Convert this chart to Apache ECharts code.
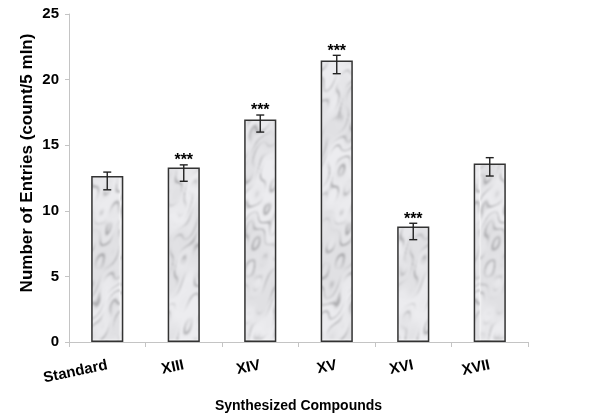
<!DOCTYPE html>
<html>
<head>
<meta charset="utf-8">
<script src="https://cdn.jsdelivr.net/npm/echarts@6/dist/echarts.min.js"></script>
<style>
  html, body { margin: 0; padding: 0; background: #fff; }
  #chart { width: 600px; height: 420px; }
</style>
</head>
<body>
<div id="chart"></div>
<script>
  // data
  var categories = ['Standard', 'XIII', 'XIV', 'XV', 'XVI', 'XVII'];
  var entries = [12.65, 13.3, 16.95, 21.45, 8.8, 13.6];
  var errLow = [11.6, 12.25, 16.0, 20.45, 7.8, 12.65];
  var errHigh = [12.95, 13.5, 17.3, 21.85, 9.05, 14.05];
  var marks = ['', '***', '***', '***', '***', ''];
  var yTicks = [0, 5, 10, 15, 20, 25];

  // marble texture for the bars (sine turbulence, no randomness)
  var tw = 120, th = 340;
  var raw = document.createElement('canvas');
  raw.width = tw; raw.height = th;
  var c = raw.getContext('2d');
  var img = c.createImageData(tw, th);
  for (var y = 0; y < th; y++) {
    for (var x = 0; x < tw; x++) {
      var turb = Math.sin(x * 0.09 + y * 0.031) + 0.7 * Math.sin(x * 0.17 - y * 0.063 + 1.3)
        + 0.4 * Math.sin(x * 0.33 + y * 0.21 + 2.1) + 0.5 * Math.sin(y * 0.083 + 0.4);
      var t = (x + y) * 0.045 + turb * 0.8;
      var vein = Math.pow(1 - Math.abs(Math.sin(t * Math.PI)), 3);
      var brk = 0.5 + 0.5 * Math.sin(x * 0.12 - y * 0.09 + turb * 1.7);
      var g = 236 - 75 * vein * brk - 12 * (0.5 + 0.5 * Math.sin(y * 0.05 + x * 0.02 + turb));
      var k = (y * tw + x) * 4;
      img.data[k] = g; img.data[k + 1] = g; img.data[k + 2] = g + 3; img.data[k + 3] = 255;
    }
  }
  c.putImageData(img, 0, 0);
  var tex = document.createElement('canvas');
  tex.width = tw; tex.height = th;
  var c2 = tex.getContext('2d');
  c2.filter = 'blur(0.8px)';
  c2.drawImage(raw, 0, 0);

  var myChart = echarts.init(document.getElementById('chart'));
  myChart.setOption({
    animation: false,
    textStyle: { fontFamily: 'Liberation Sans, Arial, sans-serif' },
    grid: { left: 69, right: 72, top: 14, bottom: 78 },
    xAxis: {
      type: 'category',
      data: categories,
      name: 'Synthesized Compounds',
      nameLocation: 'middle',
      nameGap: 57,
      nameTextStyle: { fontWeight: 'bold', fontSize: 14, color: '#000' },
      axisLine: { lineStyle: { color: '#c4c4c4' } },
      axisTick: { show: true, length: 5, lineStyle: { color: '#c4c4c4' } },
      axisLabel: {
        interval: 0, rotate: 12, margin: 23,
        fontWeight: 'bold', fontSize: 15, color: '#000'
      }
    },
    yAxis: {
      type: 'value',
      min: 0, max: 25, interval: 5,
      name: 'Number of Entries (count/5 mIn)',
      nameLocation: 'middle',
      nameGap: 33,
      nameMoveOverlap: false,
      nameTextStyle: { fontWeight: 'bold', fontSize: 17, color: '#000', padding: [0, 0, 0, 30] },
      axisLine: { show: true, lineStyle: { color: '#c4c4c4' } },
      axisTick: { show: true, length: 4, lineStyle: { color: '#c4c4c4' } },
      splitLine: { show: false },
      axisLabel: {
        fontWeight: 'bold', fontSize: 15, color: '#000', margin: 10,
        formatter: function (v) { return yTicks.indexOf(v) >= 0 ? String(v) : ''; }
      }
    },
    series: [
      {
        type: 'bar',
        data: entries,
        barWidth: '42%',
        itemStyle: {
          color: { image: tex, repeat: 'repeat' },
          borderColor: '#333',
          borderWidth: 1.5
        }
      },
      {
        type: 'custom',
        data: categories.map(function (name, i) { return [i, errLow[i], errHigh[i]]; }),
        renderItem: function (params, api) {
          var i = api.value(0);
          var lo = api.coord([i, api.value(1)]);
          var hi = api.coord([i, api.value(2)]);
          var w = 4;
          var st = { stroke: '#222', lineWidth: 1.4 };
          var kids = [
            { type: 'line', shape: { x1: hi[0], y1: hi[1], x2: lo[0], y2: lo[1] }, style: st },
            { type: 'line', shape: { x1: hi[0] - w, y1: hi[1], x2: hi[0] + w, y2: hi[1] }, style: st },
            { type: 'line', shape: { x1: lo[0] - w, y1: lo[1], x2: lo[0] + w, y2: lo[1] }, style: st }
          ];
          if (marks[i]) {
            kids.push({
              type: 'text',
              style: {
                x: hi[0], y: hi[1] - 4, text: marks[i],
                align: 'center', verticalAlign: 'middle',
                font: 'bold 16px Liberation Sans, Arial, sans-serif', fill: '#000'
              }
            });
          }
          return { type: 'group', children: kids };
        },
        z: 5
      }
    ]
  });
</script>
</body>
</html>
